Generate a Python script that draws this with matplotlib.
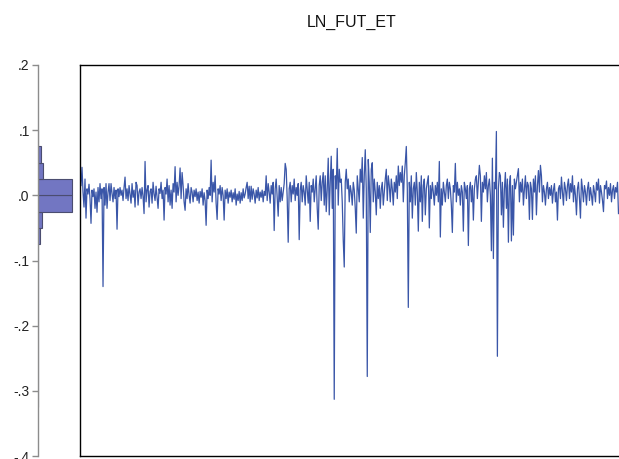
import numpy as np
import matplotlib
matplotlib.use("Agg")
import matplotlib.pyplot as plt
from matplotlib.ticker import FuncFormatter

plt.rcParams["font.family"] = ["Liberation Sans", "DejaVu Sans"]

# daily log returns left to right
ln_fut_et = [
    .015, .043, .005, -.018, .025, -.035, .010, .002, .017, -.005,
    -.043, .008, -.002, .010, -.020, .005, -.026, .012, -.010, .018,
    -.005, .010, -.140, .012, -.015, .018, -.020, .005, .018, -.008,
    .018, .003, -.010, .012, -.005, .008, -.052, .010, -.002, .012,
    .000, .008, -.008, .012, .028, -.005, .010, -.008, .015, .002,
    -.012, .018, -.003, .008, -.018, .020, .015, -.015, .005, .010,
    -.005, .012, -.002, -.028, .052, -.010, .008, .015, -.018, .006,
    .010, -.012, .020, .002, -.008, .014, -.004, -.020, .010, .003,
    .020, -.005, .008, -.038, .012, .002, .025, -.010, .015, -.015,
    .008, -.020, .018, .005, .044, -.010, .020, .000, .015, .042,
    -.005, .035, .015, -.010, -.023, .010, -.005, .018, .000, -.012,
    .012, .005, -.010, .008, -.002, .010, -.008, .005, -.012, .006,
    -.003, .010, -.015, .004, -.008, -.046, .008, -.005, .012, .000,
    .054, -.010, .020, .005, .030, -.012, -.037, .010, .002, .015,
    -.008, .012, .000, -.038, .008, -.005, .010, -.012, .005, -.003,
    .008, -.010, .004, -.006, .010, -.015, .002, -.008, .006, -.012,
    .004, -.008, .010, -.004, .002, .012, .020, -.005, .014, -.010,
    .014, -.006, .010, .002, -.012, .008, -.004, .012, -.008, .005,
    -.003, .008, -.010, .006, .000, .030, -.008, .018, .005, -.012,
    .015, .002, .020, -.054, .010, .025, -.005, -.032, .015, -.010,
    .012, -.008, .005, .018, .049, .040, -.005, -.072, .010, .020,
    -.010, .015, .002, .025, -.008, .012, .000, .018, -.068, .008,
    .020, -.010, .015, .005, -.015, .030, .010, -.012, .020, -.040,
    .015, .005, .025, -.010, .010, .030, -.020, -.052, .015, .030,
    -.008, .020, .035, -.015, .030, -.025, .010, .057, -.030, .020,
    .060, -.020, .040, -.313, .030, .010, .072, -.015, .040, .020,
    .025, -.010, -.069, -.110, .020, .040, .010, .025, -.010, .015,
    .005, -.015, .020, .008, -.020, -.058, .030, .010, -.010, .040,
    .020, .058, -.035, .030, .070, .010, -.278, .055, .020, -.057,
    .040, .050, -.010, .025, .005, -.030, .020, -.005, .015, -.020,
    .010, .020, -.015, .005, .025, .040, -.008, .030, .015, -.010,
    .025, .010, -.015, .020, .005, .030, -.005, .045, .015, .035,
    .020, .045, -.010, .030, .050, .075, .010, -.172, .020, -.010,
    .030, -.035, .010, .020, -.015, .035, .005, -.055, .020, -.010,
    .030, -.040, .015, .025, -.030, .010, .020, .030, -.050, .015,
    -.005, .020, .005, -.015, .015, .000, .020, -.010, .052, -.064,
    .010, -.015, .020, .005, -.010, .015, .025, -.005, .020, .010,
    -.015, -.057, .015, .005, .049, -.010, .020, .000, .010, -.015,
    .015, .005, -.055, .020, .010, -.005, .015, -.077, .010, .020,
    -.010, .015, -.038, .010, .025, .030, -.005, .020, .046, .030,
    -.040, .020, .005, .030, .010, .035, -.010, .015, .025, .000,
    -.085, .057, -.097, .020, .010, .098, -.247, .010, .035, .030,
    -.030, .020, -.049, .010, .035, -.020, .025, -.072, .015, .030,
    -.070, .015, -.061, .025, .010, .020, .030, .041, -.010, .020,
    .005, .025, -.015, .010, .030, -.005, .020, .015, -.037, .020,
    .010, -.037, .025, .005, .030, -.030, .015, .038, .005, .046,
    .030, -.010, .015, .005, -.015, .010, .020, -.005, .012, .000,
    .015, -.012, .008, .018, -.010, .005, -.038, .010, .015, -.005,
    .028, .005, -.015, .020, .010, -.008, .015, .025, -.005, .018,
    .005, .030, -.010, .015, .000, -.030, .010, .020, -.005, -.035,
    .025, .010, -.010, .015, .005, -.015, .010, .020, -.008, .012,
    .000, -.015, .015, .005, -.010, .020, .008, .025, -.012, .015,
    .005, -.008, -.025, .015, .010, .022, -.005, .012, .000, .018,
    -.010, .008, .015, -.005, .012, .005, .020, -.028,
]

# side histogram (EViews style), bin lower edges and observation counts
hist_bins = [-.325, -.300, -.275, -.250, -.225, -.200, -.175, -.150, -.125,
             -.100, -.075, -.050, -.025, .000, .025, .050, .075]
hist_counts = [1, 1, 0, 1, 0, 0, 1, 1, 1, 3, 20, 45, 380, 380, 55, 28, 2]
bin_width = 0.025

y_ticks = [.2, .1, .0, -.1, -.2, -.3, -.4]

LINE_COLOR = "#3A56A8"
BAR_COLOR = "#7276C2"
BAR_EDGE = "#4B4D70"
AXIS_GRAY = "#8C8C8C"

W, H = 619, 459
fig = plt.figure(figsize=(W / 100, H / 100), dpi=100, facecolor="white")

def box(x0, y0, x1, y1):
    # pixel box -> figure fraction
    return [x0 / W, 1 - y1 / H, (x1 - x0) / W, (y1 - y0) / H]

# main series panel
ax = fig.add_axes(box(80, 65, 619.5, 456))
x = np.arange(len(ln_fut_et))
ax.plot(x, ln_fut_et, color=LINE_COLOR, lw=0.9)
ax.set_xlim(-1, len(ln_fut_et))
ax.set_ylim(-0.4, 0.2)
ax.set_xticks([])
ax.set_yticks([])
for s in ax.spines.values():
    s.set_color("black")
    s.set_linewidth(1.0)
ax.spines["right"].set_visible(False)

# left panel: axis + horizontal histogram
hx = fig.add_axes(box(38, 65, 76, 456))
hx.barh(hist_bins, hist_counts, height=bin_width, align="edge",
        color=BAR_COLOR, edgecolor=BAR_EDGE, linewidth=0.8)
hx.set_xlim(0, 425)
hx.set_ylim(-0.4, 0.2)
hx.set_yticks(y_ticks)
hx.yaxis.set_major_formatter(
    FuncFormatter(lambda v, _: f"{v:.1f}".replace("0.", ".")))
hx.set_xticks([])
hx.tick_params(axis="y", length=4, width=1, color=AXIS_GRAY,
               labelsize=10, labelcolor="#222222", pad=2)
for k in ["top", "right", "bottom"]:
    hx.spines[k].set_visible(False)
hx.spines["left"].set_color(AXIS_GRAY)
hx.spines["left"].set_linewidth(1.0)
hx.patch.set_alpha(0)

fig.text(352 / W, 1 - 22 / H, "LN_FUT_ET", ha="center", va="center",
         fontsize=11.5, color="#111111")

fig.savefig("out.png", dpi=100, facecolor="white")
